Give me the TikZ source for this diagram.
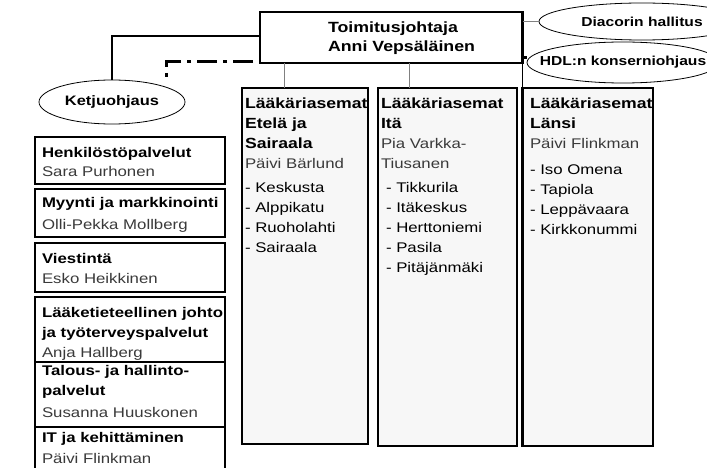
\documentclass[tikz,border=0pt]{standalone}
\usepackage{fontspec}
\setmainfont[FakeStretch=1.2]{Liberation Sans}
\usetikzlibrary{shapes.geometric}
\definecolor{colfill}{HTML}{F7F7F7}
\definecolor{namegray}{HTML}{3A3A3A}
\definecolor{lngray}{HTML}{808080}
\newcommand\fl{\rule{0pt}{16pt}}
\newcommand\hd[1]{{\fontsize{14.7}{20}\selectfont\bfseries #1}}
\newcommand\lb[1]{{\bfseries #1}}
\newcommand\nm[1]{{\color{namegray}#1}}
\begin{document}
\begin{tikzpicture}[x=1pt,y=-1pt,
  box/.style={draw=black, line width=2.1pt, inner sep=0pt, outer sep=0pt, anchor=north west, fill=white},
  colbox/.style={box, fill=colfill},
  txt/.style={inner sep=0pt, outer sep=0pt, anchor=north west, align=left, font=\fontsize{14}{20}\selectfont},
  ell/.style={draw=black, line width=0.8pt, ellipse, inner sep=0pt, outer sep=0pt, fill=white},
  gry/.style={draw=lngray, line width=1pt},
  blk/.style={draw=black, line width=1.6pt},
  thinblk/.style={draw=black, line width=1pt},
  dashdotline/.style={draw=black, line width=3pt, dash pattern=on 20pt off 6pt on 4pt off 6pt}]
\useasboundingbox (0,0) rectangle (707,468);
\clip (0,0) rectangle (707,468);

% ellipses
\node[ell, minimum width=206pt, minimum height=37pt, font=\fontsize{13}{15}\selectfont\bfseries] (dia) at (642,21.5) {\makebox[0pt]{Diacorin hallitus}};
\node[ell, minimum width=192pt, minimum height=41pt, font=\fontsize{13}{15}\selectfont\bfseries] (hdl) at (623,62.5) {\makebox[0pt]{HDL:n konserniohjaus}};
\node[ell, minimum width=146pt, minimum height=44pt, font=\fontsize{13.7}{16}\selectfont\bfseries] (ket) at (112,102) {\makebox[0pt]{Ketjuohjaus}};

% top box
\node[box, minimum width=262.5pt, minimum height=51pt] (top) at (260,12) {};
\node[txt, font=\fontsize{14.8}{19}\selectfont\bfseries] (topT) at (328,17) {\fl Toimitusjohtaja\\Anni Vepsäläinen};

% columns
\node[colbox, minimum width=126pt, minimum height=356pt] (ete) at (242,88) {};
\node[colbox, minimum width=139pt, minimum height=358pt] (ita) at (378,88) {};
\node[colbox, minimum width=130.5pt, minimum height=358pt] (lan) at (522.5,88) {};

\node[txt] (eteT) at (245,92) {\fl\hd{Lääkäriasemat}\\\hd{Etelä ja}\\\hd{Sairaala}\\\nm{Päivi Bärlund}\\[4pt]
- Keskusta\\- Alppikatu\\- Ruoholahti\\- Sairaala};
\node[txt] (itaT) at (381,92) {\fl\hd{Lääkäriasemat}\\\hd{Itä}\\\nm{Pia Varkka-}\\\nm{Tiusanen}\\[4pt]
\hspace*{5pt}- Tikkurila\\\hspace*{5pt}- Itäkeskus\\\hspace*{5pt}- Herttoniemi\\\hspace*{5pt}- Pasila\\\hspace*{5pt}- Pitäjänmäki};
\node[txt] (lanT) at (530,92) {\fl\hd{Lääkäriasemat}\\\hd{Länsi}\\\nm{Päivi Flinkman}\\[6pt]
- Iso Omena\\- Tapiola\\- Leppävaara\\- Kirkkonummi};

% left boxes
\node[box, minimum width=190pt, minimum height=47pt] (b1) at (35,137) {};
\node[box, minimum width=190pt, minimum height=48pt] (b2) at (35,189) {};
\node[box, minimum width=190pt, minimum height=49pt] (b3) at (35,243) {};
\node[box, minimum width=190pt, minimum height=65pt] (b4) at (35,297) {};
\node[box, minimum width=190pt, minimum height=65pt] (b5) at (35,362) {};
\node[box, minimum width=190pt, minimum height=55pt] (b6) at (35,427) {};

\node[txt] (b1T) at (42,141) {\fl\lb{Henkilöstöpalvelut}\\\nm{Sara Purhonen}};
\node[txt] (b2T) at (42,192) {\fl\lb{Myynti ja markkinointi}\\[1pt]\nm{Olli-Pekka Mollberg}};
\node[txt] (b3T) at (42,247) {\fl\lb{Viestintä}\\\nm{Esko Heikkinen}};
\node[txt] (b4T) at (42,301) {\fl\lb{Lääketieteellinen johto}\\\lb{ja työterveyspalvelut}\\\nm{Anja Hallberg}};
\node[txt] (b5T) at (42,359) {\fl\lb{Talous- ja hallinto-}\\\lb{palvelut}\\[2pt]\nm{Susanna Huuskonen}};
\node[txt] (b6T) at (42,426) {\fl\lb{IT ja kehittäminen}\\[1pt]\nm{Päivi Flinkman}};

% connectors
\draw[blk] ([yshift=1.5pt]top.west) -| (ket.north);
\coordinate (ddend) at (166,77);
\draw[dashdotline] ([xshift=-7pt,yshift=1pt]top.south west) -| (ddend);
\draw[gry] (top.south -| 284,0) -- (ete.north -| 284,0);
\draw[gry] (top.south -| 409,0) -- (ita.north -| 409,0);
\draw[gry] (top.east |- dia.west) -- (dia.west);
\draw[thinblk] (top.south east) -- (lan.north west);
\draw[draw=black, line width=3pt] (top.east |- 0,58) -- (hdl.west |- 0,58);
\end{tikzpicture}
\end{document}
